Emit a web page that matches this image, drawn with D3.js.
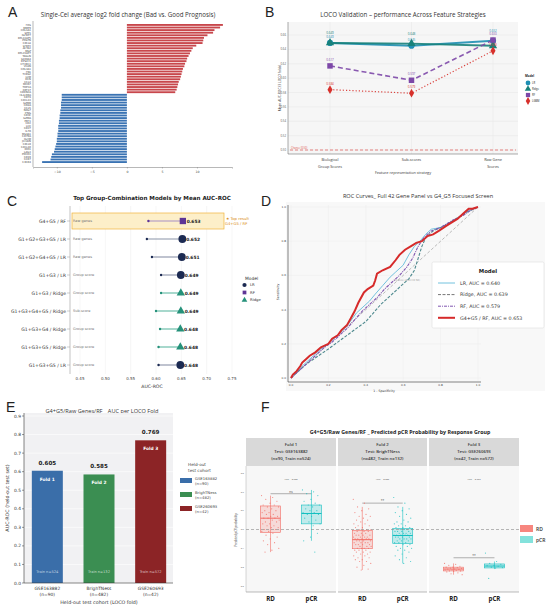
<!DOCTYPE html>
<html>
<head>
<meta charset="utf-8">
<script src="https://cdn.jsdelivr.net/npm/d3@7"></script>
<style>
  body { margin: 0; background: #fff; }
  svg { display: block; }
</style>
</head>
<body>
<div id="viz"></div>
<script>
// ---------- data ----------
// A: log2 fold change per gene
const upGenes = ["FOS", "MMP9", "COL1A1", "SPP1", "IGFBP7", "RPL13AP5", "POSTN", "CXCL8", "SFRP2", "ACTA2", "MGP", "RPL23AP7", "TAGLN", "S100A4", "RPS4Y1", "CTHRC1", "VCAN", "COL3A1", "FN1", "THBS2", "LUM", "DCN", "CCL2", "MKI67", "TOP2A", "KRT17", "CDKN2A"];
const upFC = [13.7, 13.3, 12.5, 12.3, 11.5, 11.0, 10.9, 10.8, 9.9, 9.4, 9.2, 9.0, 8.8, 8.6, 8.5, 8.3, 8.2, 8.0, 7.9, 7.8, 7.7, 7.6, 7.4, 7.3, 7.2, 7.1, 6.9];
const downGenes = ["HLA-DRA", "CD74", "CXCL13", "GZMB", "CD8A", "CCL5", "NKG7", "IFNG", "CD3E", "GZMA", "PRF1", "CD2", "LCK", "CD27", "IL7R", "MS4A1", "CD79A", "IGHM", "JCHAIN", "CXCL9", "CXCL10", "IDO1", "LAG3", "PDCD1", "CD19", "CCR7", "CXCR4"];
const downFC = [-9.3, -9.3, -9.3, -9.4, -9.4, -9.4, -9.5, -9.5, -9.6, -9.6, -9.7, -9.7, -9.8, -9.8, -9.8, -9.9, -9.9, -10.0, -10.0, -10.1, -10.2, -10.3, -10.4, -10.7, -10.8, -10.9, -12.1];
const fcTicks = [-10, -5, 0, 5, 10];

// B: LOCO mean AUC by feature strategy
const strategies = ["Biological Group Scores", "Sub-scores", "Raw Gene Scores"];
const strategyLines = [["Biological", "Group Scores"], ["Sub-scores"], ["Raw Gene", "Scores"]];
const locoModels = ["LR", "Ridge", "RF", "LGBM"];
const locoLR = [0.649, 0.645, 0.652];
const locoRidge = [0.649, 0.648, 0.645];
const locoRF = [0.617, 0.597, 0.653];
const locoLGBM = [0.584, 0.579, 0.638];
const locoTicks = [0.50, 0.52, 0.54, 0.56, 0.58, 0.60, 0.62, 0.64, 0.66];

// C: top group-combination models
const comboLabels = ["G4+G5 / RF", "G1+G2+G3+G5 / LR", "G1+G2+G4+G5 / LR", "G1+G3 / LR", "G1+G3 / Ridge", "G1+G3+G4+G5 / Ridge", "G1+G3+G4 / Ridge", "G1+G3+G5 / Ridge", "G1+G3+G5 / LR"];
const comboFeature = ["Raw genes", "Raw genes", "Raw genes", "Group score", "Group score", "Sub-score", "Group score", "Group score", "Group score"];
const comboModel = ["RF", "LR", "LR", "LR", "Ridge", "Ridge", "Ridge", "Ridge", "LR"];
const comboMin = [0.585, 0.582, 0.592, 0.610, 0.610, 0.600, 0.608, 0.605, 0.605];
const comboMean = [0.653, 0.652, 0.651, 0.649, 0.649, 0.649, 0.648, 0.648, 0.648];
const comboTicks = [0.45, 0.50, 0.55, 0.60, 0.65, 0.70, 0.75];

// D: ROC curves [fpr, tpr]
const rocLR = [[0,0],[0.03,0.03],[0.06,0.07],[0.09,0.10],[0.12,0.13],[0.16,0.17],[0.20,0.20],[0.24,0.24],[0.28,0.28],[0.31,0.32],[0.35,0.38],[0.38,0.41],[0.42,0.45],[0.45,0.49],[0.49,0.54],[0.53,0.59],[0.56,0.62],[0.60,0.66],[0.63,0.72],[0.66,0.77],[0.69,0.80],[0.72,0.84],[0.75,0.87],[0.80,0.88],[0.85,0.91],[0.90,0.94],[0.95,0.98],[1,1]];
const rocRidge = [[0,0],[0.04,0.04],[0.08,0.08],[0.12,0.11],[0.16,0.14],[0.20,0.17],[0.25,0.21],[0.30,0.25],[0.35,0.29],[0.40,0.33],[0.44,0.38],[0.48,0.43],[0.52,0.47],[0.56,0.51],[0.60,0.55],[0.63,0.58],[0.66,0.63],[0.68,0.70],[0.70,0.77],[0.72,0.82],[0.76,0.86],[0.82,0.89],[0.88,0.93],[0.94,0.97],[1,1]];
const rocRF = [[0,0],[0.03,0.03],[0.07,0.07],[0.10,0.10],[0.14,0.14],[0.18,0.18],[0.22,0.21],[0.26,0.25],[0.30,0.29],[0.34,0.34],[0.38,0.39],[0.42,0.43],[0.46,0.47],[0.50,0.52],[0.54,0.56],[0.58,0.60],[0.62,0.65],[0.65,0.70],[0.68,0.77],[0.71,0.82],[0.75,0.86],[0.80,0.88],[0.86,0.92],[0.92,0.95],[0.96,0.98],[1,1]];
const rocTop = [[0,0],[0.01,0.02],[0.03,0.04],[0.05,0.07],[0.06,0.09],[0.08,0.11],[0.10,0.13],[0.13,0.15],[0.16,0.18],[0.20,0.20],[0.22,0.23],[0.25,0.25],[0.27,0.28],[0.30,0.31],[0.32,0.35],[0.34,0.39],[0.36,0.44],[0.39,0.50],[0.41,0.52],[0.44,0.54],[0.45,0.57],[0.46,0.61],[0.49,0.63],[0.53,0.65],[0.56,0.69],[0.58,0.72],[0.61,0.75],[0.64,0.77],[0.67,0.79],[0.70,0.80],[0.73,0.83],[0.76,0.84],[0.79,0.86],[0.83,0.89],[0.86,0.91],[0.89,0.93],[0.92,0.96],[0.95,0.99],[0.97,0.99],[1,1]];
const rocNames = ["LR, AUC = 0.640", "Ridge, AUC = 0.639", "RF, AUC = 0.579", "G4+G5 / RF, AUC = 0.653"];
const rocTicks = [0, 0.2, 0.4, 0.6, 0.8, 1.0];

// E: AUC per LOCO fold
const foldCohorts = ["GSE163882", "BrighTNess", "GSE260693"];
const foldN = ["(n=90)", "(n=482)", "(n=42)"];
const foldTrain = ["Train n=524", "Train n=132", "Train n=572"];
const foldAUC = [0.605, 0.585, 0.769];
const foldTicks = [0, 0.1, 0.2, 0.3, 0.4, 0.5, 0.6, 0.7, 0.8, 0.9];

// F: predicted pCR probability by response group
const groups = ["RD", "pCR"];
const facetTitles = [["Fold 1", "Test: GSE163882", "(n=90, Train n=524)"], ["Fold 2", "Test: BrighTNess", "(n=482, Train n=132)"], ["Fold 3", "Test: GSE260693", "(n=42, Train n=572)"]];
const facetAUC = ["AUC = 0.605", "AUC = 0.585", "AUC = 0.769"];
const facetSig = ["ns", "**", "**"];
const facetSigY = [0.69, 0.64, 0.35];
// [lower whisker, q1, median, q3, upper whisker]
const boxRD = [[0.38, 0.485, 0.56, 0.625, 0.68], [0.285, 0.398, 0.446, 0.495, 0.62], [0.26, 0.28, 0.29, 0.30, 0.32]];
const boxPCR = [[0.44, 0.53, 0.585, 0.63, 0.71], [0.32, 0.425, 0.468, 0.505, 0.62], [0.29, 0.296, 0.306, 0.317, 0.33]];
const ptsRD1 = [0.68,0.67,0.66,0.65,0.64,0.63,0.63,0.62,0.62,0.61,0.60,0.60,0.59,0.59,0.58,0.58,0.57,0.57,0.56,0.56,0.56,0.55,0.55,0.54,0.54,0.53,0.53,0.52,0.52,0.51,0.51,0.50,0.50,0.49,0.49,0.48,0.47,0.46,0.45,0.44,0.43,0.42,0.40,0.39,0.38];
const ptsPCR1 = [0.71,0.70,0.69,0.68,0.66,0.65,0.64,0.63,0.63,0.62,0.61,0.60,0.60,0.59,0.59,0.58,0.58,0.57,0.56,0.55,0.54,0.53,0.52,0.50,0.48,0.46,0.44,0.38];
const ptsRD2 = [0.66,0.64,0.62,0.61,0.60,0.59,0.58,0.57,0.57,0.56,0.55,0.55,0.54,0.53,0.53,0.52,0.52,0.51,0.51,0.50,0.50,0.50,0.49,0.49,0.49,0.48,0.48,0.48,0.47,0.47,0.47,0.47,0.46,0.46,0.46,0.46,0.45,0.45,0.45,0.45,0.45,0.44,0.44,0.44,0.44,0.43,0.43,0.43,0.43,0.42,0.42,0.42,0.42,0.41,0.41,0.41,0.40,0.40,0.40,0.40,0.39,0.39,0.39,0.38,0.38,0.38,0.37,0.37,0.36,0.36,0.35,0.35,0.34,0.34,0.33,0.33,0.32,0.31,0.30,0.29,0.285];
const ptsPCR2 = [0.67,0.64,0.62,0.61,0.60,0.59,0.58,0.57,0.56,0.55,0.54,0.54,0.53,0.53,0.52,0.52,0.51,0.51,0.51,0.50,0.50,0.50,0.50,0.49,0.49,0.49,0.49,0.48,0.48,0.48,0.48,0.47,0.47,0.47,0.47,0.47,0.46,0.46,0.46,0.46,0.45,0.45,0.45,0.45,0.44,0.44,0.44,0.43,0.43,0.43,0.42,0.42,0.41,0.41,0.40,0.40,0.39,0.39,0.38,0.37,0.36,0.35,0.34,0.33,0.32];
const ptsRD3 = [0.32,0.315,0.31,0.305,0.30,0.30,0.298,0.295,0.293,0.29,0.29,0.288,0.286,0.285,0.283,0.28,0.28,0.278,0.275,0.27,0.265,0.26];
const ptsPCR3 = [0.375,0.33,0.32,0.315,0.31,0.308,0.305,0.30,0.298,0.295,0.24];
const pcrTicks = [0.2, 0.3, 0.4, 0.5, 0.6, 0.7, 0.8];

// ---------- drawing ----------
const W = 550, H = 609;
const svg = d3.select("#viz").append("svg").attr("width", W).attr("height", H);
const SANS = "'Open Sans', sans-serif";
const DV = "'DejaVu Sans', sans-serif";

function txt(g, x, y, s, o = {}) {
  return g.append("text")
    .attr("x", x).attr("y", y)
    .attr("text-anchor", o.anchor || "start")
    .attr("transform", o.rotate ? `rotate(${o.rotate},${x},${y})` : null)
    .style("font-family", o.family || SANS)
    .style("font-size", (o.size || 5) + "px")
    .style("font-weight", o.weight || "normal")
    .style("fill", o.fill || "#222")
    .text(s);
}

// panel letters
[["A", 8, 17], ["B", 265, 17], ["C", 7, 206], ["D", 261, 206], ["E", 6, 412], ["F", 261, 412]].forEach(d => {
  txt(svg, d[1], d[2], d[0], { size: 14, family: "'Liberation Sans', Arial, sans-serif" });
});

// ===== Panel A =====
(function () {
  const g = svg.append("g");
  const genes = upGenes.concat(downGenes);
  const fc = upFC.concat(downFC);
  const x = d3.scaleLinear().domain([-13.4, 15]).range([33, 232]);
  const y = d3.scaleBand().domain(genes).range([24, 163]).paddingInner(0.28);

  txt(g, 128, 17, "Single-Cel average log2 fold change (Bad vs. Good Prognosis)", { size: 6.2, anchor: "middle", fill: "#333" });

  g.selectAll("rect.bar").data(genes).join("rect")
    .attr("x", (d, i) => x(Math.min(0, fc[i])))
    .attr("y", d => y(d))
    .attr("width", (d, i) => Math.abs(x(fc[i]) - x(0)))
    .attr("height", y.bandwidth())
    .attr("fill", (d, i) => fc[i] > 0 ? "#c8474c" : "#3a73b3");

  g.selectAll("text.gene").data(genes).join("text")
    .attr("x", 31).attr("y", d => y(d) + y.bandwidth() / 2 + 1)
    .attr("text-anchor", "end")
    .style("font-family", DV).style("font-size", "2.6px").style("fill", "#444")
    .text(d => d);

  const ax = g.append("g").attr("transform", "translate(0,167)")
    .call(d3.axisBottom(x).tickValues(fcTicks).tickSize(1.5).tickFormat(d => d === 0 ? "0" : d3.format("d")(d).replace("-", "\u2212")));
  ax.select(".domain").attr("stroke", "#888").attr("stroke-width", 0.6);
  ax.selectAll(".tick line").attr("stroke", "#888").attr("stroke-width", 0.5);
  ax.selectAll("text").style("font-size", "3.2px").style("font-family", DV).attr("dy", "0.5em").style("fill", "#444");
  g.append("line").attr("x1", 33).attr("x2", 33).attr("y1", 21).attr("y2", 167).attr("stroke", "#888").attr("stroke-width", 0.6);
})();

// ===== Panel B =====
(function () {
  const g = svg.append("g");
  const x = d3.scalePoint().domain(strategies).range([330, 493]);
  const y = d3.scaleLinear().domain([0.50, 0.66]).range([150, 35]);
  const series = [locoLR, locoRidge, locoRF, locoLGBM];
  const colors = ["#1f8fb4", "#17817a", "#7d48a8", "#d7302b"];
  const dashes = [null, null, "5,3", "1.2,2"];
  const widths = [2, 2, 1.6, 1.2];
  const shapes = [d3.symbolCircle, d3.symbolTriangle, d3.symbolSquare, d3.symbolDiamond];

  txt(g, 403, 17, "LOCO Validation \u2013 performance Across Feature Strategies", { size: 6.2, anchor: "middle", fill: "#333" });
  g.append("rect").attr("x", 288).attr("y", 22).attr("width", 230).attr("height", 132).attr("fill", "#f6f6f6");

  locoTicks.forEach(t => {
    g.append("line").attr("x1", 288).attr("x2", 518).attr("y1", y(t)).attr("y2", y(t)).attr("stroke", "#e4e4e4").attr("stroke-width", 0.4);
    txt(g, 286, y(t) + 1, t.toFixed(2), { size: 2.8, anchor: "end", fill: "#555" });
  });
  strategies.forEach(s => g.append("line").attr("x1", x(s)).attr("x2", x(s)).attr("y1", 22).attr("y2", 154).attr("stroke", "#e4e4e4").attr("stroke-width", 0.4));
  g.append("line").attr("x1", 288).attr("x2", 288).attr("y1", 22).attr("y2", 154).attr("stroke", "#555").attr("stroke-width", 0.5);
  g.append("line").attr("x1", 288).attr("x2", 518).attr("y1", 154).attr("y2", 154).attr("stroke", "#555").attr("stroke-width", 0.5);

  g.append("line").attr("x1", 290).attr("x2", 516).attr("y1", y(0.50)).attr("y2", y(0.50))
    .attr("stroke", "#e0524f").attr("stroke-width", 0.7).attr("stroke-dasharray", "3,2");
  txt(g, 291, y(0.50) - 1.5, "Chance (0.50)", { size: 2.6, fill: "#e0524f" });

  const line = d3.line().x((d, i) => x(strategies[i])).y(d => y(d));
  series.forEach((s, k) => {
    g.append("path").datum(s).attr("d", line).attr("fill", "none")
      .attr("stroke", colors[k]).attr("stroke-width", widths[k])
      .attr("stroke-dasharray", dashes[k]).attr("opacity", 0.9);
  });
  series.forEach((s, k) => {
    s.forEach((v, i) => {
      g.append("path").attr("d", d3.symbol(shapes[k], k === 3 ? 22 : 30)())
        .attr("transform", `translate(${x(strategies[i])},${y(v)})`).attr("fill", colors[k]);
      const off = (k === 1) ? -9 : -5;
      if (!(k === 1 && i === 2)) txt(g, x(strategies[i]), y(v) + off + (k === 0 && i === 2 ? -4 : 0), v.toFixed(3), { size: 3, anchor: "middle", fill: colors[k] });
    });
  });

  strategyLines.forEach((ls, i) => ls.forEach((l, j) => txt(g, x(strategies[i]), 161 + j * 6.5, l, { size: 3.8, anchor: "middle", fill: "#333" })));
  txt(g, 403, 174, "Feature representation strategy", { size: 3.8, anchor: "middle", fill: "#333" });
  txt(g, 281, 88, "Mean AUC-ROC (3 LOCO folds)", { size: 3.3, anchor: "middle", rotate: -90, fill: "#333" });

  txt(g, 525, 77, "Model", { size: 3, weight: "bold" });
  locoModels.forEach((m, k) => {
    const yy = 83 + k * 6;
    g.append("path").attr("d", d3.symbol(shapes[k], 18)()).attr("transform", `translate(528,${yy})`).attr("fill", colors[k]);
    txt(g, 532, yy + 1, m, { size: 2.7 });
  });
})();

// ===== Panel C =====
(function () {
  const g = svg.append("g");
  const x = d3.scaleLinear().domain([0.45, 0.75]).range([80, 232]);
  const y = d3.scalePoint().domain(comboLabels).range([221, 365]);
  const mColor = { LR: "#1c2a52", RF: "#5e3596", Ridge: "#25917a" };
  const mLine = { LR: "#8a93a8", RF: "#a78fc6", Ridge: "#5fb9a2" };
  const mShape = { LR: d3.symbolCircle, RF: d3.symbolSquare, Ridge: d3.symbolTriangle };
  const mSize = { LR: 48, RF: 40, Ridge: 30 };

  txt(g, 152, 200, "Top Group-Combination Models by Mean AUC-ROC", { size: 5.6, anchor: "middle", weight: "bold", family: DV });

  comboTicks.forEach(t => {
    g.append("line").attr("x1", x(t)).attr("x2", x(t)).attr("y1", 206).attr("y2", 374).attr("stroke", "#ececec").attr("stroke-width", 0.5);
    txt(g, x(t), 379.5, t.toFixed(2), { size: 4, anchor: "middle", family: DV, fill: "#444" });
  });
  g.append("line").attr("x1", 70).attr("x2", 70).attr("y1", 206).attr("y2", 374).attr("stroke", "#aaa").attr("stroke-width", 0.7);
  txt(g, 152, 387.5, "AUC-ROC", { size: 4.6, anchor: "middle", family: DV, fill: "#333" });

  g.append("rect").attr("x", 72).attr("y", 213).attr("width", 152).attr("height", 16)
    .attr("fill", "#fdefc9").attr("stroke", "#f0b43c").attr("stroke-width", 0.7);
  txt(g, 226, 219.5, "\u2605 Top result", { size: 3.8, family: DV, fill: "#d98a12" });
  txt(g, 225, 225, "G4+G5 / RF", { size: 3.8, family: DV, fill: "#d98a12" });

  comboLabels.forEach((lab, i) => {
    const yy = y(lab), m = comboModel[i];
    g.append("line").attr("x1", 67).attr("x2", 70).attr("y1", yy).attr("y2", yy).attr("stroke", "#999").attr("stroke-width", 0.5);
    txt(g, 66, yy + 1.8, lab, { size: 4.6, anchor: "end", family: DV, fill: "#333" });
    txt(g, 73, yy + 1.3, comboFeature[i], { size: 3.5, family: DV, fill: "#777" });
    g.append("line").attr("x1", x(comboMin[i])).attr("x2", x(comboMean[i])).attr("y1", yy).attr("y2", yy)
      .attr("stroke", mLine[m]).attr("stroke-width", 1.1);
    g.append("circle").attr("cx", x(comboMin[i])).attr("cy", yy).attr("r", 1.2).attr("fill", mColor[m]);
    g.append("path").attr("d", d3.symbol(mShape[m], mSize[m])())
      .attr("transform", `translate(${x(comboMean[i])},${yy})`).attr("fill", mColor[m]);
    txt(g, x(comboMean[i]) + 3.8, yy + 1.6, comboMean[i].toFixed(3), { size: 4.4, weight: "bold", family: DV });
  });

  txt(g, 245, 280, "Model", { size: 4.4, family: DV, fill: "#333" });
  ["LR", "RF", "Ridge"].forEach((m, k) => {
    const yy = 285 + k * 7.5;
    g.append("path").attr("d", d3.symbol(mShape[m], 14)()).attr("transform", `translate(244.5,${yy})`).attr("fill", mColor[m]);
    txt(g, 250, yy + 1.4, m, { size: 3.8, family: DV, fill: "#333" });
  });
})();

// ===== Panel D =====
(function () {
  const g = svg.append("g");
  const x = d3.scaleLinear().domain([0, 1]).range([291, 478]);
  const y = d3.scaleLinear().domain([0, 1]).range([378, 207]);

  txt(g, 418, 198, "ROC Curves_ Full 42 Gene Panel vs G4_G5 Focused Screen", { size: 5.6, anchor: "middle", fill: "#333" });
  g.append("rect").attr("x", 286).attr("y", 202).attr("width", 259).attr("height", 189).attr("fill", "#f8f8f8");
  rocTicks.forEach(t => {
    g.append("line").attr("x1", x(t)).attr("x2", x(t)).attr("y1", 205).attr("y2", 381).attr("stroke", "#ececec").attr("stroke-width", 0.4);
    g.append("line").attr("x1", 288).attr("x2", 481).attr("y1", y(t)).attr("y2", y(t)).attr("stroke", "#ececec").attr("stroke-width", 0.4);
    txt(g, x(t), 386, t.toFixed(1), { size: 2.8, anchor: "middle", family: DV, fill: "#444" });
    txt(g, 286, y(t) + 1, t.toFixed(1), { size: 2.8, anchor: "end", family: DV, fill: "#444" });
  });
  g.append("line").attr("x1", 288).attr("x2", 288).attr("y1", 205).attr("y2", 382).attr("stroke", "#333").attr("stroke-width", 0.6);
  g.append("line").attr("x1", 288).attr("x2", 481).attr("y1", 382).attr("y2", 382).attr("stroke", "#333").attr("stroke-width", 0.6);
  txt(g, 384, 392, "1 - Specificity", { size: 3.2, anchor: "middle", family: DV, fill: "#333" });
  txt(g, 279, 292, "Sensitivity", { size: 3.2, anchor: "middle", family: DV, rotate: -90, fill: "#333" });

  g.append("line").attr("x1", x(0)).attr("x2", x(1)).attr("y1", y(0)).attr("y2", y(1))
    .attr("stroke", "#aaa").attr("stroke-width", 0.8).attr("stroke-dasharray", "3,2");
  txt(g, 394, 281, "Chance (AUC=0.50)", { size: 2.6, family: DV, fill: "#999" });

  const line = d3.line().x(d => x(d[0])).y(d => y(d[1]));
  const curves = [rocLR, rocRidge, rocRF, rocTop];
  const colors = ["#73c2de", "#4f8a8f", "#8056b0", "#d62a2a"];
  const dashes = [null, "3,1.5", "3,1,1,1", null];
  const widths = [1, 1.1, 1.1, 2];
  curves.forEach((c, k) => {
    g.append("path").datum(c).attr("d", line).attr("fill", "none")
      .attr("stroke", colors[k]).attr("stroke-width", widths[k]).attr("stroke-dasharray", dashes[k]);
  });

  g.append("rect").attr("x", 432).attr("y", 262).attr("width", 112).attr("height", 66).attr("rx", 1.5)
    .attr("fill", "#fff").attr("stroke", "#ddd").attr("stroke-width", 0.6);
  txt(g, 488, 273, "Model", { size: 5.4, anchor: "middle", weight: "bold", family: DV });
  rocNames.forEach((n, k) => {
    const yy = 283 + k * 11.6;
    g.append("line").attr("x1", 438).attr("x2", 455).attr("y1", yy).attr("y2", yy)
      .attr("stroke", k === 1 ? "#777" : colors[k]).attr("stroke-width", k === 3 ? 2 : 1).attr("stroke-dasharray", dashes[k]);
    txt(g, 460, yy + 1.8, n, { size: 4.8, family: DV, fill: "#333" });
  });
})();

// ===== Panel E =====
(function () {
  const g = svg.append("g");
  const x = d3.scaleBand().domain(foldCohorts).range([21.5, 176.5]).paddingInner(0.4).paddingOuter(0.2);
  const y = d3.scaleLinear().domain([0, 0.9]).range([583, 416]);
  const colors = ["#3a6ea9", "#3b8e52", "#8c2426"];

  txt(g, 102, 413, "G4+G5/Raw Genes/RF _ AUC per LOCO Fold", { size: 5.6, anchor: "middle", fill: "#333" });
  g.append("rect").attr("x", 24).attr("y", 413).attr("width", 149).attr("height", 170).attr("fill", "#f1f1f3");
  foldTicks.forEach(t => {
    g.append("line").attr("x1", 24).attr("x2", 173).attr("y1", y(t)).attr("y2", y(t)).attr("stroke", "#fff").attr("stroke-width", 0.6);
    g.append("line").attr("x1", 22).attr("x2", 24).attr("y1", y(t)).attr("y2", y(t)).attr("stroke", "#333").attr("stroke-width", 0.5);
    txt(g, 21, y(t) + 1.6, t.toFixed(1), { size: 4.4, anchor: "end", family: DV, fill: "#333" });
  });

  foldCohorts.forEach((c, i) => {
    const bx = x(c), bw = x.bandwidth(), cx = bx + bw / 2;
    g.append("rect").attr("x", bx).attr("y", y(foldAUC[i])).attr("width", bw).attr("height", y(0) - y(foldAUC[i])).attr("fill", colors[i]);
    txt(g, cx, y(foldAUC[i]) - 6, foldAUC[i].toFixed(3), { size: 5.6, anchor: "middle", weight: "bold", family: DV });
    txt(g, cx, y(foldAUC[i]) + 10, "Fold " + (i + 1), { size: 4.4, anchor: "middle", weight: "bold", family: DV, fill: "#fff" });
    txt(g, cx, 573, foldTrain[i], { size: 3.6, anchor: "middle", family: DV, fill: "rgba(255,255,255,0.7)" });
    txt(g, cx, 590, c, { size: 4.4, anchor: "middle", family: DV, fill: "#333" });
    txt(g, cx, 596, foldN[i], { size: 4.4, anchor: "middle", family: DV, fill: "#333" });
  });
  g.append("line").attr("x1", 24).attr("x2", 24).attr("y1", 413).attr("y2", 583).attr("stroke", "#333").attr("stroke-width", 0.6);
  g.append("line").attr("x1", 24).attr("x2", 173).attr("y1", 583).attr("y2", 583).attr("stroke", "#333").attr("stroke-width", 0.6);
  txt(g, 99, 604, "Held-out test cohort (LOCO fold)", { size: 4.8, anchor: "middle", family: DV, fill: "#333" });
  txt(g, 9, 498, "AUC-ROC (held-out test set)", { size: 4.8, anchor: "middle", family: DV, rotate: -90, fill: "#333" });

  txt(g, 188, 466, "Held-out", { size: 4.2, family: DV, fill: "#444" });
  txt(g, 188, 472, "test cohort", { size: 4.2, family: DV, fill: "#444" });
  foldCohorts.forEach((c, i) => {
    const yy = 478 + i * 14;
    g.append("rect").attr("x", 180).attr("y", yy).attr("width", 12).attr("height", 5).attr("fill", colors[i]);
    txt(g, 195, yy + 1.5, c, { size: 3.8, family: DV, fill: "#444" });
    txt(g, 195, yy + 7, foldN[i], { size: 3.8, family: DV, fill: "#444" });
  });
})();

// ===== Panel F =====
(function () {
  const g = svg.append("g");
  const facets = [[246, 336], [338, 427], [429, 519]];
  const y = d3.scaleLinear().domain([0.2, 0.8]).range([586, 473]);
  const boxes = [boxRD, boxPCR];
  const pts = [[ptsRD1, ptsPCR1], [ptsRD2, ptsPCR2], [ptsRD3, ptsPCR3]];
  const stroke = ["#f26b63", "#14bfc0"];
  const fill = ["rgba(248,118,109,0.22)", "rgba(0,191,196,0.22)"];

  txt(g, 400, 434, "G4+G5/Raw Genes/RF _ Predicted pCR Probability by Response Group", { size: 5.3, anchor: "middle", weight: "bold", fill: "#222" });
  txt(g, 237, 530, "Predicted pCR probability", { size: 2.8, anchor: "middle", rotate: -90, fill: "#333" });

  facets.forEach((f, fi) => {
    const [f0, f1] = f, fc = (f0 + f1) / 2;
    const x = d3.scalePoint().domain(groups).range([f0, f1]).padding(0.6);
    g.append("rect").attr("x", f0).attr("y", 438).attr("width", f1 - f0).attr("height", 28).attr("fill", "#d9d9d9");
    facetTitles[fi].forEach((l, j) => txt(g, fc, 446 + j * 7, l, { size: 4.3, anchor: "middle", weight: 600, fill: "#333" }));
    g.append("rect").attr("x", f0).attr("y", 466).attr("width", f1 - f0).attr("height", 126).attr("fill", "#f7f7f7");
    g.append("line").attr("x1", f0).attr("x2", f1).attr("y1", 592).attr("y2", 592).attr("stroke", "#777").attr("stroke-width", 0.5);

    txt(g, fc, 480, facetAUC[fi], { size: 2.4, anchor: "middle", fill: "#444" });
    const sy = y(facetSig[fi] === "ns" ? 0.69 : facetSigY[fi]);
    g.append("line").attr("x1", x("RD")).attr("x2", x("pCR")).attr("y1", sy).attr("y2", sy).attr("stroke", "#666").attr("stroke-width", 0.5);
    txt(g, (x("RD") + x("pCR")) / 2, sy - 1.2, facetSig[fi], { size: 3.2, anchor: "middle", fill: "#444" });

    groups.forEach((gr, gi) => {
      const cx = x(gr), b = boxes[gi][fi], bw = 20;
      g.append("line").attr("x1", cx).attr("x2", cx).attr("y1", y(b[0])).attr("y2", y(b[4])).attr("stroke", stroke[gi]).attr("stroke-width", 0.6);
      g.append("rect").attr("x", cx - bw / 2).attr("y", y(b[3])).attr("width", bw).attr("height", y(b[1]) - y(b[3]))
        .attr("fill", fill[gi]).attr("stroke", stroke[gi]).attr("stroke-width", 0.6);
      g.append("line").attr("x1", cx - bw / 2).attr("x2", cx + bw / 2).attr("y1", y(b[2])).attr("y2", y(b[2])).attr("stroke", stroke[gi]).attr("stroke-width", 1);
      // deterministic jitter offsets
      g.selectAll(null).data(pts[fi][gi]).join("circle")
        .attr("cx", (d, i) => cx + (((i * 0.6180339) % 1) - 0.5) * 18)
        .attr("cy", d => y(d))
        .attr("r", 0.6)
        .attr("fill", stroke[gi]).attr("opacity", 0.75);
      txt(g, cx, 601, gr, { size: 6.2, anchor: "middle", weight: "bold", fill: "#222" });
    });
  });

  g.append("line").attr("x1", 246).attr("x2", 519).attr("y1", y(0.5)).attr("y2", y(0.5))
    .attr("stroke", "#888").attr("stroke-width", 0.6).attr("stroke-dasharray", "3,2");
  pcrTicks.forEach(t => {
    txt(g, 244, y(t) + 0.8, t.toFixed(1), { size: 2.4, anchor: "end", fill: "#555" });
  });
  g.append("line").attr("x1", 246).attr("x2", 246).attr("y1", 466).attr("y2", 592).attr("stroke", "#999").attr("stroke-width", 0.4);

  groups.forEach((gr, gi) => {
    const yy = 525 + gi * 11;
    g.append("rect").attr("x", 520).attr("y", yy).attr("width", 13).attr("height", 7).attr("fill", gi === 0 ? "#f7867f" : "#84e2dc");
    txt(g, 536, yy + 5.5, gr, { size: 5, weight: 600, fill: "#333" });
  });
})();
</script>
</body>
</html>
